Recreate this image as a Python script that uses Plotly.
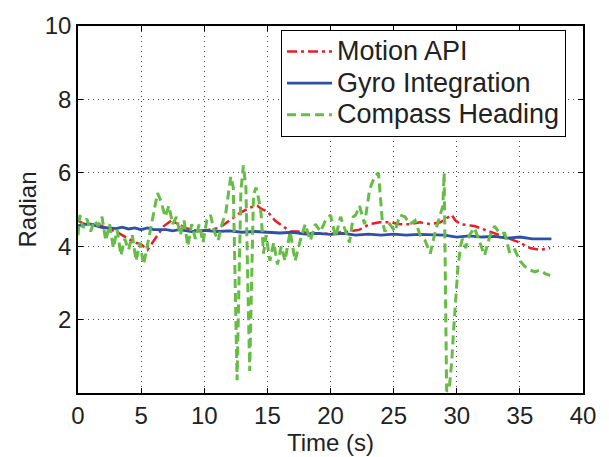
import plotly.graph_objects as go

# Compass heading (green, dashed)
compass_t = [0.0, 0.15, 0.4, 0.7, 1.0, 1.3, 1.6, 1.9, 2.2, 2.5, 2.8, 3.1, 3.4, 3.7, 4.0, 4.3, 4.6, 4.9,
             5.2, 5.5, 5.8, 6.0, 6.3, 6.6, 6.9, 7.2, 7.5, 7.8, 8.1, 8.4, 8.7, 9.0, 9.3, 9.6, 9.9, 10.2,
             10.5, 10.8, 11.1, 11.4, 11.7, 11.9, 12.1, 12.3, 12.45, 12.6, 12.75, 12.9, 13.1, 13.3, 13.45,
             13.6, 13.75, 13.9, 14.1, 14.3, 14.5, 14.7, 14.9, 15.2, 15.5, 15.8, 16.1, 16.4, 16.8, 17.2,
             17.6, 18.0, 18.4, 18.8, 19.2, 19.6, 20.0, 20.4, 20.8, 21.1, 21.5, 21.8, 22.0, 22.3, 22.7,
             23.1, 23.5, 23.8, 23.95, 24.1, 24.3, 24.7, 25.1, 25.5, 25.9, 26.3, 26.7, 27.1, 27.5, 27.9,
             28.3, 28.7, 28.9, 29.0, 29.1, 29.2, 29.4, 29.6, 29.75, 29.9, 30.0, 30.1, 30.3, 30.45, 30.7,
             31.0, 31.4, 31.8, 32.2, 32.6, 33.0, 33.4, 33.8, 34.2, 34.6, 35.0, 35.4, 35.8, 36.2, 36.6,
             37.0, 37.4]
compass_v = [4.3, 4.85, 4.5, 4.75, 4.4, 4.7, 4.55, 4.8, 4.15, 4.6, 3.95, 4.45, 3.75, 4.2, 3.9, 4.3, 3.6, 4.1,
             3.5, 4.05, 4.5, 4.9, 5.45, 5.2, 4.8, 5.1, 4.6, 4.8, 4.3, 4.7, 4.0, 4.6, 4.2, 4.6, 4.1, 4.7,
             4.85, 4.4, 4.15, 4.6, 4.9, 5.4, 5.9, 5.6, 3.0, 0.35, 3.0, 5.5, 6.2, 5.6, 3.0,
             0.6, 3.0, 5.4, 5.6, 5.3, 4.9, 3.8, 4.3, 3.6, 4.1, 3.5, 4.0, 3.6, 4.4, 3.6,
             4.15, 4.6, 4.15, 4.6, 4.4, 4.7, 4.85, 4.25, 4.8, 4.5, 4.1, 4.8, 4.85, 5.1, 4.6,
             5.55, 5.9, 6.0, 5.3, 4.7, 4.4, 4.6, 4.4, 4.85, 4.8, 4.6, 4.7, 4.3, 4.15, 3.8,
             4.4, 4.85, 5.1, 6.0, 3.0, 0.05, 0.1, 0.85, 1.7, 2.45, 3.0, 3.45, 4.0, 4.2, 3.95,
             4.3, 4.5, 4.1, 3.75, 4.25, 4.55, 4.35, 4.35, 3.8, 3.9, 3.6, 3.45, 3.35, 3.3, 3.35,
             3.25, 3.2]

# Motion API (red, dash-dot)
motion_t = [0, 0.5, 1.5, 2.2, 3, 4, 4.5, 5, 5.5, 6.2, 6.8, 7.4, 8, 8.5, 9, 9.7, 10.4, 11.2, 12, 12.8,
            13.6, 14.2, 14.6, 15, 15.6, 16.2, 16.8, 17.6, 18.4, 19.2, 20, 20.8, 21.5, 22.3, 23.1, 23.9,
            24.7, 25.5, 26.3, 27.1, 27.9, 28.7, 29.3, 29.6, 29.9, 30.3, 31.4, 32.6, 33.4, 34.2, 35,
            35.8, 36.6, 37.4]
motion_v = [4.7, 4.6, 4.6, 4.5, 4.4, 4.2, 4.1, 4.05, 3.9, 4.25, 4.55, 4.7, 4.6, 4.5, 4.45, 4.4, 4.45, 4.5, 4.7, 4.9,
            5.05, 5.1, 5.0, 4.95, 4.7, 4.55, 4.4, 4.4, 4.35, 4.35, 4.33, 4.38, 4.4, 4.45, 4.6, 4.65,
            4.65, 4.6, 4.6, 4.65, 4.6, 4.65, 4.8, 4.85, 4.7, 4.6, 4.55, 4.4, 4.3, 4.2, 4.1,
            3.95, 3.9, 3.95]

# Gyro integration (blue, solid)
gyro_t = [0, 0.5, 1, 1.5, 2, 2.5, 3, 3.5, 4, 4.5, 5, 5.5, 6, 7, 7.5, 8, 9, 10, 11, 12, 13, 14, 15, 16,
          17, 18, 19, 20, 21, 22, 23, 24, 25, 26, 27, 28, 29, 30, 31, 32, 33, 34, 35, 36, 37, 37.5]
gyro_v = [4.55, 4.6, 4.6, 4.55, 4.5, 4.5, 4.48, 4.52, 4.47, 4.5, 4.45, 4.5, 4.45, 4.45, 4.42, 4.45, 4.4,
          4.43, 4.4, 4.42, 4.38, 4.4, 4.38, 4.36, 4.38, 4.33, 4.35, 4.32, 4.35, 4.3, 4.33, 4.3, 4.33,
          4.3, 4.32, 4.3, 4.3, 4.25, 4.28, 4.25, 4.27, 4.22, 4.25, 4.2, 4.2, 4.2]

series_names = ["Motion API", "Gyro Integration", "Compass Heading"]
x_ticks = [0, 5, 10, 15, 20, 25, 30, 35, 40]
y_ticks = [2, 4, 6, 8, 10]

FONT = "Liberation Sans, Arial, Helvetica, sans-serif"


def legend_label(s):
    # larger glyphs with the tighter MATLAB-like row spacing
    return '<span style="font-size:27px">' + s + '</span>'


fig = go.Figure()
fig.add_trace(go.Scatter(x=motion_t, y=motion_v, mode="lines", name=legend_label(series_names[0]),
                         line=dict(color="rgb(237,28,36)", width=2.5, dash="10px,4px,3px,4px")))
fig.add_trace(go.Scatter(x=gyro_t, y=gyro_v, mode="lines", name=legend_label(series_names[1]),
                         line=dict(color="rgb(46,80,165)", width=2.8)))
fig.add_trace(go.Scatter(x=compass_t, y=compass_v, mode="lines", name=legend_label(series_names[2]),
                         line=dict(color="rgb(102,189,69)", width=3, dash="9px,5px")))

axis_common = dict(showgrid=True, gridcolor="rgb(70,70,70)", griddash="1px,4px", gridwidth=1,
                   showline=True, linecolor="black", linewidth=1.5, mirror="ticks",
                   ticks="inside", ticklen=5, tickcolor="black", zeroline=False,
                   tickfont=dict(size=24, color="#222"), title_font=dict(size=24, color="#222"))

fig.update_xaxes(range=[0, 40], tickvals=x_ticks, title_text="Time (s)", title_standoff=0, **axis_common)
fig.update_yaxes(range=[0, 10], tickvals=y_ticks, title_text="Radian", title_standoff=1, **axis_common)

fig.update_layout(
    width=609, height=457,
    margin=dict(l=78, r=26, t=12, b=60),
    paper_bgcolor="white", plot_bgcolor="white",
    font=dict(family=FONT, color="#222"),
    showlegend=True,
    legend=dict(x=0.402, y=0.99, xanchor="left", yanchor="top",
                bgcolor="white", bordercolor="black", borderwidth=1,
                font=dict(size=22, color="#222"), itemwidth=45, tracegroupgap=0),
)

fig.write_html("out.html")
